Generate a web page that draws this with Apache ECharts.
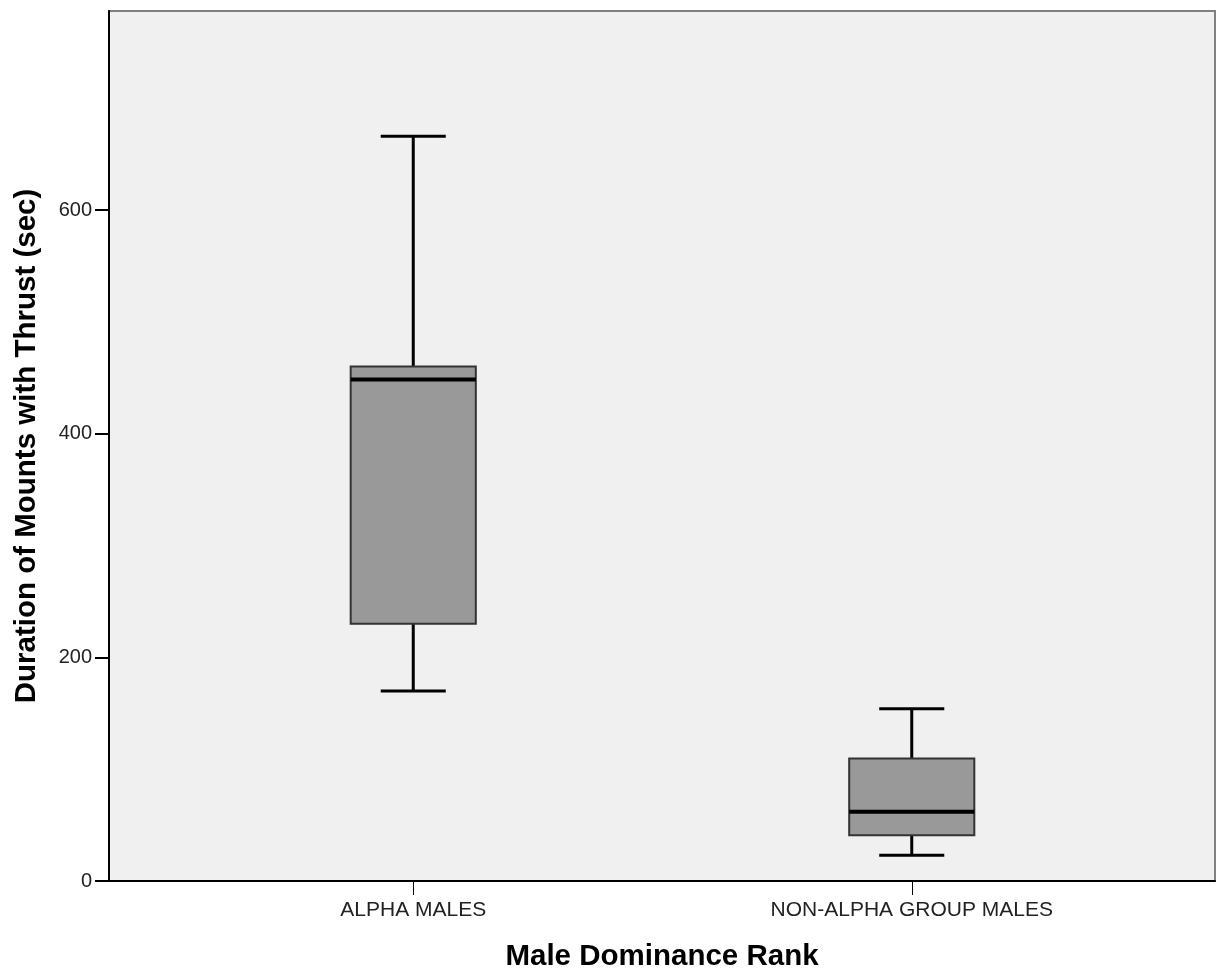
<!DOCTYPE html>
<html>
<head>
<meta charset="utf-8">
<script src="https://cdn.jsdelivr.net/npm/echarts@6/dist/echarts.min.js"></script>
<style>html,body{margin:0;padding:0;background:#fff;}#c{width:1217px;height:970px;}</style>
</head>
<body>
<div id="c"></div>
<script>
const categories = ['ALPHA MALES', 'NON-ALPHA GROUP MALES'];
const whiskerLow = [170, 23];
const q1 = [230, 41];
const medians = [448.5, 62];
const q3 = [460, 109.5];
const whiskerHigh = [666, 154];
const yMin = 0;
const yMax = 778;
const yInterval = 200;

const font = "'Liberation Sans', Arial, sans-serif";
const boxData = categories.map((c, i) => [i, whiskerLow[i], q1[i], medians[i], q3[i], whiskerHigh[i]]);

const chart = echarts.init(document.getElementById('c'), null, {renderer: 'canvas'});
chart.setOption({
  animation: false,
  backgroundColor: '#ffffff',
  grid: [
    {left: 109, right: 2, top: 11, bottom: 89, show: true, backgroundColor: '#F0F0F0', borderColor: '#808080', borderWidth: 2, containLabel: false, outerBoundsMode: 'none'},
    {left: 164, right: 56, top: 11, bottom: 89, containLabel: false, outerBoundsMode: 'none'}
  ],
  xAxis: [
    {gridIndex: 0, type: 'category', data: categories, axisLine: {show: true, lineStyle: {color: '#000', width: 2}},
     axisTick: {show: false}, axisLabel: {show: false}, splitLine: {show: false},
     name: 'Male Dominance Rank', nameLocation: 'middle', nameGap: 61,
     nameTextStyle: {fontFamily: font, fontWeight: 'bold', fontSize: 29.5, color: '#000'}},
    {gridIndex: 1, type: 'category', data: categories, axisLine: {show: false},
     axisTick: {show: true, alignWithLabel: true, length: 14, lineStyle: {color: '#000', width: 1}},
     axisLabel: {fontFamily: font, fontSize: 21, color: '#222', margin: 19}, splitLine: {show: false}}
  ],
  yAxis: [
    {gridIndex: 0, type: 'value', min: yMin, max: yMax, interval: yInterval,
     axisLine: {show: true, lineStyle: {color: '#000', width: 2}},
     axisTick: {show: true, length: 14, lineStyle: {color: '#000', width: 2}},
     axisLabel: {fontFamily: font, fontSize: 20, color: '#222', margin: 17, showMaxLabel: false},
     splitLine: {show: false},
     name: 'Duration of Mounts with Thrust (sec)', nameLocation: 'middle', nameGap: 67,
     nameTextStyle: {fontFamily: font, fontWeight: 'bold', fontSize: 29.5, color: '#000'}},
    {gridIndex: 1, type: 'value', min: yMin, max: yMax, interval: yInterval, show: false}
  ],
  series: [{
    type: 'custom',
    xAxisIndex: 1,
    yAxisIndex: 1,
    data: boxData,
    encode: {x: 0, y: [1, 2, 3, 4, 5]},
    renderItem: function (params, api) {
      const i = api.value(0);
      const x = api.coord([i, 0])[0];
      const yLo = api.coord([i, api.value(1)])[1];
      const yQ1 = api.coord([i, api.value(2)])[1];
      const yMed = api.coord([i, api.value(3)])[1];
      const yQ3 = api.coord([i, api.value(4)])[1];
      const yHi = api.coord([i, api.value(5)])[1];
      const band = api.size([1, 0])[0];
      const bw = band * 0.251;
      const cw = bw * 0.52;
      const lineStyle = {stroke: '#000', lineWidth: 3};
      return {
        type: 'group',
        children: [
          {type: 'line', shape: {x1: x, y1: yHi, x2: x, y2: yQ3}, style: lineStyle},
          {type: 'line', shape: {x1: x - cw / 2, y1: yHi, x2: x + cw / 2, y2: yHi}, style: lineStyle},
          {type: 'line', shape: {x1: x, y1: yQ1, x2: x, y2: yLo}, style: lineStyle},
          {type: 'line', shape: {x1: x - cw / 2, y1: yLo, x2: x + cw / 2, y2: yLo}, style: lineStyle},
          {type: 'rect', shape: {x: x - bw / 2, y: yQ3, width: bw, height: yQ1 - yQ3},
           style: {fill: '#999999', stroke: '#333', lineWidth: 2}},
          {type: 'line', shape: {x1: x - bw / 2, y1: yMed, x2: x + bw / 2, y2: yMed}, style: {stroke: '#000', lineWidth: 4}}
        ]
      };
    }
  }]
});
</script>
</body>
</html>
